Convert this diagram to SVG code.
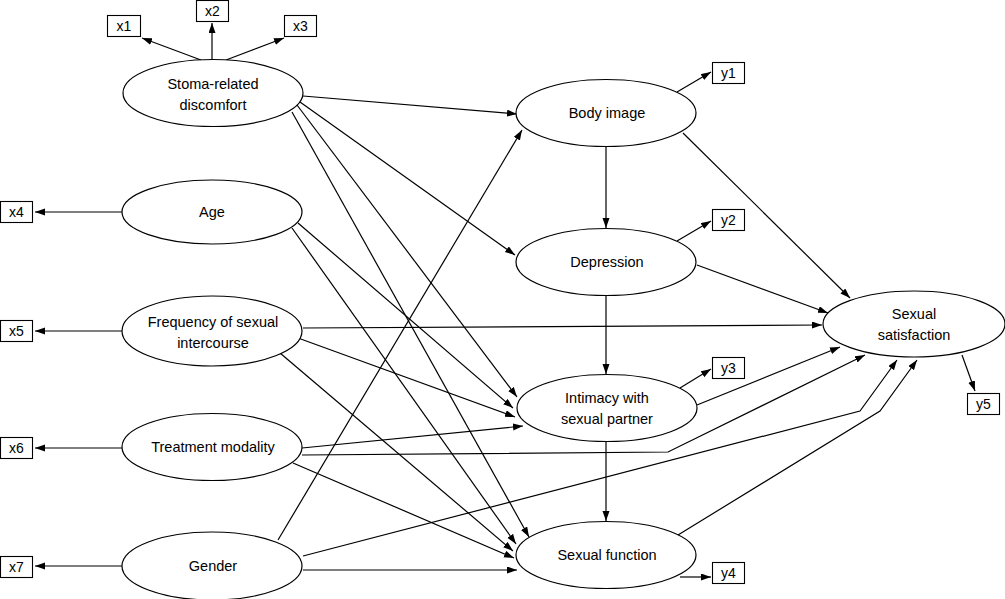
<svg xmlns="http://www.w3.org/2000/svg" width="1005" height="599" viewBox="0 0 1005 599">
<defs>
<marker id="ah" markerWidth="11" markerHeight="8" refX="10" refY="3.5" orient="auto" markerUnits="userSpaceOnUse">
<path d="M0,0 L10,3.5 L0,7 z" fill="#000"/>
</marker>
<style>
.n ellipse{fill:#fff;stroke:#000;stroke-width:1.2}
.n rect{fill:#fff;stroke:#000;stroke-width:1.1}
text{font-family:"Liberation Sans",Arial,sans-serif;font-size:14.5px;fill:#000;text-anchor:middle}
.b text{font-size:14px}
#edges path,#edges line{fill:none;stroke:#000;stroke-width:1.2;marker-end:url(#ah)}
</style>
</defs>
<rect width="1005" height="599" fill="#fff"/>
<g id="edges">
<line x1="201" y1="60" x2="142" y2="38"/>
<line x1="212" y1="60" x2="212" y2="23"/>
<line x1="226" y1="60" x2="284" y2="38"/>
<line x1="122" y1="212" x2="35" y2="212"/>
<line x1="122" y1="331" x2="35" y2="331"/>
<line x1="122" y1="448" x2="35" y2="448"/>
<line x1="122" y1="566" x2="35" y2="566"/>
<line x1="677" y1="92" x2="711" y2="72"/>
<line x1="677" y1="241" x2="711" y2="221"/>
<line x1="680" y1="388" x2="711" y2="369"/>
<line x1="680" y1="577" x2="711" y2="577"/>
<line x1="962" y1="355" x2="975" y2="391"/>
<line x1="303" y1="96" x2="517" y2="114"/>
<line x1="300" y1="102" x2="515" y2="255"/>
<line x1="297" y1="105" x2="517" y2="397"/>
<line x1="292" y1="112" x2="529" y2="537"/>
<line x1="298" y1="223" x2="513" y2="408"/>
<line x1="292" y1="228" x2="516" y2="544"/>
<line x1="303" y1="328" x2="822" y2="325"/>
<line x1="298" y1="338" x2="515" y2="417"/>
<line x1="280" y1="353" x2="513" y2="551"/>
<line x1="302" y1="448" x2="523" y2="426"/>
<path d="M302,455 L668,452 L865,355"/>
<line x1="293" y1="463" x2="514" y2="558"/>
<line x1="278" y1="540" x2="522" y2="130"/>
<path d="M303,556 L860,411 L897,360"/>
<line x1="303" y1="570" x2="517" y2="570"/>
<line x1="606" y1="147" x2="606" y2="228"/>
<line x1="606" y1="296" x2="606" y2="374"/>
<line x1="606" y1="442" x2="606" y2="521"/>
<line x1="683" y1="133" x2="850" y2="298"/>
<line x1="697" y1="265" x2="828" y2="313"/>
<line x1="697" y1="405" x2="840" y2="347"/>
<path d="M678,535 L880,411 L917,360"/>
</g>
<g id="stoma" class="n"><ellipse cx="213" cy="93" rx="90" ry="33.5"/><text x="213" y="89">Stoma-related</text><text x="213" y="110">discomfort</text></g>
<g id="age" class="n"><ellipse cx="212" cy="212" rx="90" ry="32"/><text x="212" y="217">Age</text></g>
<g id="freq" class="n"><ellipse cx="212" cy="331" rx="90" ry="35"/><text x="213" y="327">Frequency of sexual</text><text x="213" y="348">intercourse</text></g>
<g id="treatment" class="n"><ellipse cx="212" cy="447" rx="90" ry="33.5"/><text x="213" y="452">Treatment modality</text></g>
<g id="gender" class="n"><ellipse cx="212" cy="566" rx="90" ry="34"/><text x="213" y="571">Gender</text></g>
<g id="body" class="n"><ellipse cx="606" cy="113" rx="90" ry="33.5"/><text x="607" y="118">Body image</text></g>
<g id="depression" class="n"><ellipse cx="606" cy="262" rx="90" ry="33.5"/><text x="607" y="267">Depression</text></g>
<g id="intimacy" class="n"><ellipse cx="607" cy="408" rx="90" ry="33.5"/><text x="607" y="403">Intimacy with</text><text x="607" y="424">sexual partner</text></g>
<g id="sexfunc" class="n"><ellipse cx="606" cy="555" rx="90" ry="33.5"/><text x="607" y="560">Sexual function</text></g>
<g id="satisfaction" class="n"><ellipse cx="914" cy="324" rx="91" ry="33"/><text x="914" y="319">Sexual</text><text x="914" y="340">satisfaction</text></g>
<g id="bx1" class="n b"><rect x="107.5" y="15.5" width="33" height="21"/><text x="124" y="31">x1</text></g>
<g id="bx2" class="n b"><rect x="196.5" y="0.5" width="32" height="21"/><text x="212.5" y="16">x2</text></g>
<g id="bx3" class="n b"><rect x="284.5" y="15.5" width="32" height="21"/><text x="300.5" y="31">x3</text></g>
<g id="bx4" class="n b"><rect x="0.5" y="201.5" width="32" height="21"/><text x="16.5" y="217">x4</text></g>
<g id="bx5" class="n b"><rect x="0.5" y="320.5" width="32" height="21"/><text x="16.5" y="336">x5</text></g>
<g id="bx6" class="n b"><rect x="0.5" y="437.5" width="32" height="21"/><text x="16.5" y="453">x6</text></g>
<g id="bx7" class="n b"><rect x="0.5" y="556.5" width="32" height="21"/><text x="16.5" y="572">x7</text></g>
<g id="by1" class="n b"><rect x="712.5" y="62.5" width="32" height="21"/><text x="728.5" y="78">y1</text></g>
<g id="by2" class="n b"><rect x="712.5" y="209.5" width="32" height="21"/><text x="728.5" y="225">y2</text></g>
<g id="by3" class="n b"><rect x="712.5" y="357.5" width="32" height="21"/><text x="728.5" y="373">y3</text></g>
<g id="by4" class="n b"><rect x="712.5" y="562.5" width="32" height="21"/><text x="728.5" y="578">y4</text></g>
<g id="by5" class="n b"><rect x="967.5" y="393.5" width="32" height="21"/><text x="983.5" y="409">y5</text></g>
</svg>
